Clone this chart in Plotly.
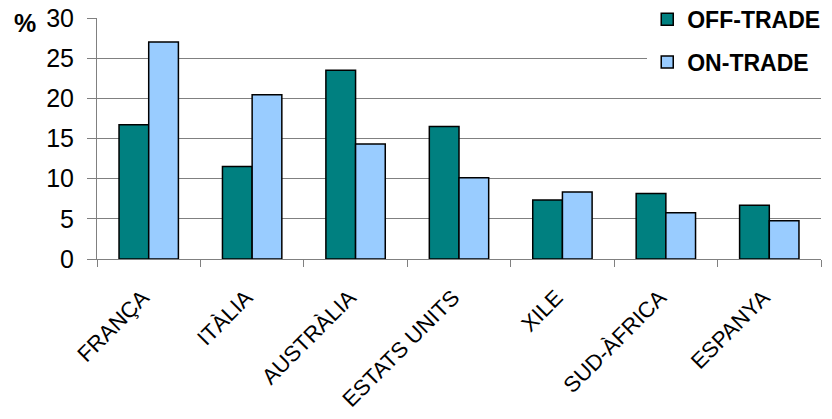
import plotly.graph_objects as go

categories = ["FRANÇA", "ITÀLIA", "AUSTRÀLIA", "ESTATS UNITS", "XILE", "SUD-ÀFRICA", "ESPANYA"]
off_trade = [16.7, 11.5, 23.5, 16.5, 7.35, 8.15, 6.7]
on_trade = [27.0, 20.45, 14.3, 10.1, 8.35, 5.75, 4.75]
y_ticks = [0, 5, 10, 15, 20, 25, 30]

FONT = "Liberation Sans, Arial, sans-serif"
W, H = 832, 419
ML, MT = 97, 18.3
MR = W - 820.7
MB = H - 259.3
PW = W - ML - MR
PH = H - MT - MB


def px_x(x):
    return (x - ML) / PW


def px_y(y):
    return (H - MB - y) / PH


fig = go.Figure()
fig.add_trace(go.Bar(
    name="OFF-TRADE", x=categories, y=off_trade,
    marker=dict(color="#008080", line=dict(color="#000000", width=1.5)),
    legendgroup="off",
))
fig.add_trace(go.Bar(
    name="ON-TRADE", x=categories, y=on_trade,
    marker=dict(color="#99CCFF", line=dict(color="#000000", width=1.5)),
    legendgroup="on",
))

fig.update_layout(
    width=W, height=H,
    margin=dict(l=ML, r=MR, t=MT, b=MB, autoexpand=False),
    paper_bgcolor="white", plot_bgcolor="white",
    font=dict(family=FONT, size=22, color="black"),
    barmode="group", bargap=0.426, bargroupgap=0,
    showlegend=True,
    legend=dict(
        x=px_x(647), xref="paper", y=px_y(-2), yref="paper",
        xanchor="left", yanchor="top",
        bgcolor="white",
        font=dict(family=FONT, size=23, color="black", weight="bold"),
        tracegroupgap=10,
        traceorder="grouped",
    ),
    annotations=[dict(
        text="<b>%</b>", x=px_x(25), y=px_y(23), xref="paper", yref="paper",
        xanchor="center", yanchor="middle",
        showarrow=False, font=dict(family=FONT, size=25, color="black"),
    )],
)

fig.update_yaxes(
    range=[0, 30], tickvals=y_ticks,
    showgrid=True, gridcolor="#808080", gridwidth=1,
    showline=True, linecolor="#808080", linewidth=1,
    ticks="outside", ticklen=9, tickcolor="#808080",
    tickfont=dict(size=25),
    ticklabelstandoff=8, ticklabeloverflow="allow",
    zeroline=False,
)
fig.update_xaxes(
    showline=True, linecolor="#808080", linewidth=1,
    ticks="outside", ticklen=7, tickcolor="#808080", tickson="boundaries",
    tickangle=-45, tickfont=dict(size=22),
    ticklabelstandoff=16, ticklabelshift=-6, ticklabeloverflow="allow",
)

fig.write_html(
    "out.html",
    config={"displayModeBar": False},
    post_script="document.body.style.margin='0';document.body.style.overflow='hidden';",
)
